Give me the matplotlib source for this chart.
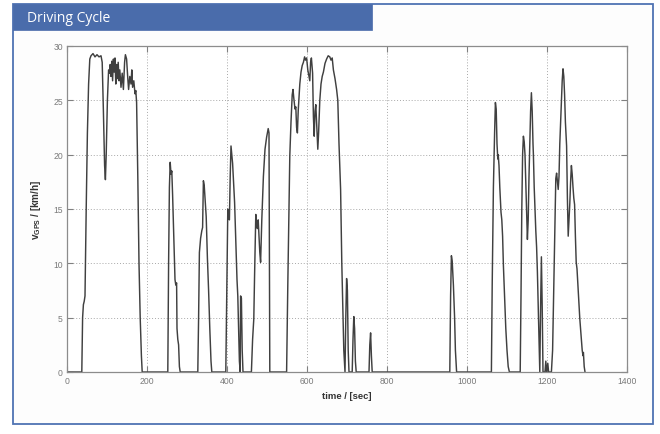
import matplotlib
matplotlib.use("Agg")
import matplotlib.pyplot as plt
from matplotlib.patches import Rectangle

# Breakpoints (time [s], speed [km/h])
time_s = [0, 37, 39, 41, 43, 45, 48, 51, 54, 57, 60, 65, 70, 75, 80, 85, 88, 91, 94, 96, 98,
          101, 104, 106, 108, 110, 112, 114, 116, 118, 120, 122, 124, 126, 128, 130, 132, 135,
          138, 141, 144, 146, 149, 152, 154, 157, 160, 162, 164, 167, 170, 172, 174, 177, 180,
          183, 186, 188,
          252, 254, 256, 258, 260, 262, 264, 267, 270, 272, 274, 275, 277, 279, 281, 283,
          327, 329, 331, 334, 337, 339, 341, 343, 345, 348, 351, 354, 357, 360, 362,
          397, 399, 401, 402, 404, 406, 408, 410, 412, 414, 417, 419, 422, 425, 427, 429, 431,
          433, 434, 436, 438, 440,
          461, 464, 467, 469, 472, 474, 476, 478, 480, 482, 484, 487, 491, 495, 499, 503, 505, 507,
          549, 552, 555, 557, 560, 563, 565, 567, 570, 572, 574, 576, 578, 582, 585, 588, 591,
          594, 596, 599, 602, 605, 607, 609, 611, 614, 616, 618, 620, 622, 624, 627, 629, 632,
          635, 638, 641, 645, 649, 653, 657, 660, 663, 666, 670, 674, 677, 680, 684, 687, 690,
          692, 695, 697, 699, 701, 703, 705, 713, 715, 717, 719, 721, 723, 755, 757, 759, 761, 763,
          957, 959, 961, 963, 966, 969, 971, 974,
          1061, 1063, 1066, 1069, 1071, 1073, 1075, 1077, 1078, 1080, 1082, 1085, 1087, 1089,
          1091, 1094, 1097, 1100, 1103, 1106,
          1133, 1135, 1137, 1139, 1141, 1143, 1145, 1147, 1149, 1151, 1153, 1155, 1157, 1159,
          1161, 1163, 1165, 1166, 1168, 1170, 1172, 1174, 1176, 1178, 1180, 1182, 1184, 1186,
          1188, 1190, 1195, 1197, 1199, 1202, 1204,
          1211, 1214, 1217, 1220, 1222, 1224, 1226, 1228, 1230, 1232, 1235, 1238, 1240, 1242,
          1244, 1246, 1249, 1251, 1253, 1255, 1257, 1259, 1261, 1263, 1265, 1267, 1269, 1271,
          1273, 1275, 1278, 1282, 1286, 1288, 1290, 1291, 1293, 1295]

speed_kmh = [0, 0, 5, 6.2, 6.5, 7, 15, 22, 26.5, 28.8, 29.1, 29.3, 29.0, 29.2, 29.0, 29.1, 28.5,
             24, 19, 17.7, 20,
             25, 27.8, 27.5, 28.3, 27.2, 28.6, 26.8, 28.8, 27.6, 28.9, 26.5, 28.3, 27.0, 28.5,
             26.8, 27.8, 26.2, 27.5, 26.0, 28.5, 29.2, 28.8, 27.0, 26.0, 27.2, 26.5, 27.8, 26.2,
             26.8, 25.6, 25.9, 24.8, 18, 10, 5, 1.5, 0,
             0, 10, 17, 19.3, 18.2, 18.5, 16.3, 12.5, 8.5, 8.0, 8.2, 4, 3.0, 2.5, 0.5, 0,
             0, 5, 11, 12.3, 13, 13.3, 17.6, 17.2, 16, 14.3, 10.5, 7.5, 4, 1, 0,
             0, 6, 12, 15, 14.2, 14.0, 18, 20.8, 20.0, 19.2, 17, 15.6, 12, 8.5, 7, 4, 1,
             0, 7, 6.8, 2, 0,
             0, 3, 4.9, 9, 14.5, 13.6, 13.2, 14, 12.5, 11, 10.1, 14, 18, 20.5, 21.6, 22.4, 22, 0,
             0, 8, 15, 19.9, 23, 25.5, 26.0, 25.2, 24.2, 24.4, 22.5, 22.0, 24, 26.5, 27.6, 28.2,
             28.5, 29.0, 28.7, 28.9, 27.8, 27.2, 26.8, 28.5, 28.9, 27.5, 23.5, 21.7, 24, 24.6,
             23, 20.5, 22, 25, 26.5, 27.2, 27.6, 28.4, 28.8, 29.1, 29.0, 28.7, 28.9, 27.8, 27.0,
             26, 25, 21, 16.8, 10, 5, 2, 0, 5, 8.6, 7.5, 2, 0, 0, 3, 5.1, 4, 1, 0, 0, 2.5, 3.6,
             1.5, 0,
             0, 7, 10.7, 10.2, 8, 5, 2, 0,
             0, 8, 17, 22, 24.8, 24.2, 21, 19.6, 20, 19.0, 17, 14.7, 14, 12.5, 9.8, 7, 4, 2, 0.5, 0,
             0, 7, 15, 20, 21.7, 21.2, 20, 17.5, 15, 12.2, 14, 18, 21, 24, 25.7, 24, 21, 20, 17,
             15, 13, 11.5, 9.2, 6, 3, 0, 6, 10.6, 6, 0, 0, 1, 0, 0.8, 0,
             0, 2, 8, 14, 17.8, 18.3, 17.5, 16.8, 18.0, 21, 24, 26.8, 27.9, 27.2, 25.5, 23, 20.8,
             16, 12.5, 14, 15.5, 17.5, 19.0, 18.2, 17, 16, 15.4, 12.5, 10.1, 9.5, 7.5, 4.9, 3,
             2, 1.5, 1.8, 0.5, 0]

x_ticks = [0, 200, 400, 600, 800, 1000, 1200, 1400]
y_ticks = [0, 5, 10, 15, 20, 25, 30]
title_text = "Driving Cycle"
x_label = "time / [sec]"
y_label = r"v$_{\mathregular{GPS}}$ / [km/h]"

plt.rcParams["font.family"] = ["Liberation Sans", "DejaVu Sans"]

W, H = 660, 435
fig = plt.figure(figsize=(W / 100, H / 100), dpi=100)
fig.patch.set_facecolor("white")

# Outer frame and title bar
frame_col = "#4f73b3"
fig.patches.append(Rectangle((12.5 / W, 1 - 424.5 / H), 640 / W, 420 / H,
                             transform=fig.transFigure, fill=True, facecolor="#fdfdfd",
                             edgecolor=frame_col, linewidth=1.3, zorder=-5))
fig.patches.append(Rectangle((13 / W, 1 - 31 / H), 359 / W, 26.5 / H,
                             transform=fig.transFigure, facecolor="#4a6cab",
                             edgecolor="#4a6cab", linewidth=0.5, zorder=1))
fig.text(27 / W, 1 - 18.5 / H, title_text, color="white", fontsize=10,
         family=["Open Sans", "DejaVu Sans"], va="center", ha="left")

ax = fig.add_axes([67 / W, 1 - 373 / H, 560 / W, 326 / H])
ax.set_zorder(2)
ax.set_facecolor("white")
ax.plot(time_s, speed_kmh, color="#404040", linewidth=1.05, solid_joinstyle="round")

ax.set_xlim(0, 1400)
ax.set_ylim(0, 30)
ax.set_xticks(x_ticks)
ax.set_yticks(y_ticks)
ax.grid(True, linestyle=(0, (1, 2)), color="#a8a8a8", linewidth=0.7)
ax.tick_params(direction="in", length=4, width=0.8, color="#808080",
               labelcolor="#7a7a7a", labelsize=6.2, top=True, right=True, pad=3)
for s in ax.spines.values():
    s.set_color("#8c8c8c")
    s.set_linewidth(0.9)

ax.set_xlabel(x_label, fontsize=6.8, fontweight="bold", color="#333333", labelpad=4)
ax.set_ylabel(y_label, fontsize=7.2, fontweight="bold", color="#333333", labelpad=7)

fig.savefig("out.png", dpi=100)
